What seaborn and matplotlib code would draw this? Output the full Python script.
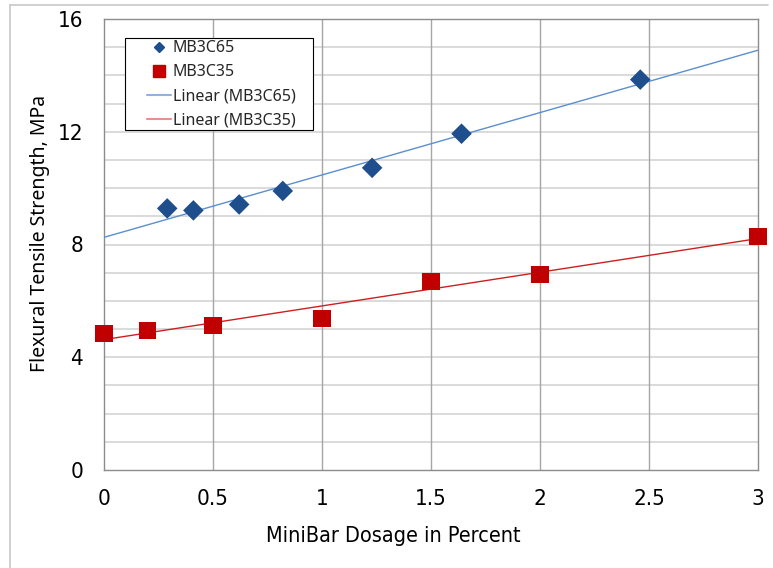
import numpy as np
import pandas as pd
import matplotlib
matplotlib.use("Agg")
import matplotlib.pyplot as plt
import seaborn as sns
from matplotlib.lines import Line2D
from matplotlib.patches import Rectangle

# ---- data ----
c65_dosage = [0.29, 0.41, 0.62, 0.82, 1.23, 1.64, 2.46]
c65_strength = [9.28, 9.21, 9.42, 9.90, 10.72, 11.93, 13.85]
c35_dosage = [0.0, 0.2, 0.5, 1.0, 1.5, 2.0, 3.0]
c35_strength = [4.84, 4.94, 5.12, 5.37, 6.68, 6.93, 8.30]
series_names = ["MB3C65", "MB3C35"]
x_ticks = [0, 0.5, 1, 1.5, 2, 2.5, 3]
x_tick_labels = ["0", "0.5", "1", "1.5", "2", "2.5", "3"]
y_ticks = [0, 4, 8, 12, 16]

df65 = pd.DataFrame({"x": c65_dosage, "y": c65_strength})
df35 = pd.DataFrame({"x": c35_dosage, "y": c35_strength})

sns.set_theme(style="white")
plain = ["Noto Sans", "DejaVu Sans"]
plt.rcParams["font.family"] = plain

fig = plt.figure(figsize=(7.73, 5.68), dpi=100)
ax = fig.add_axes([104 / 773, 1 - 470 / 568, (758 - 104) / 773, (470 - 19) / 568])

ax.set_xlim(0, 3)
ax.set_ylim(0, 16)

blue_pt = "#1F4E8C"
red_pt = "#C00000"
blue_ln = "#5B8FD0"
red_ln = "#CC2020"

# trendlines
sns.regplot(data=df65, x="x", y="y", ax=ax, scatter=False, ci=None, truncate=False,
            line_kws=dict(color=blue_ln, lw=1.0, zorder=3))
sns.regplot(data=df35, x="x", y="y", ax=ax, scatter=False, ci=None, truncate=False,
            line_kws=dict(color=red_ln, lw=1.0, zorder=3))

# points
sns.scatterplot(data=df65, x="x", y="y", ax=ax, marker="D", s=110, color=blue_pt,
                edgecolor="none", zorder=4, clip_on=False)
sns.scatterplot(data=df35, x="x", y="y", ax=ax, marker="s", s=150, color=red_pt,
                edgecolor="none", zorder=4, clip_on=False)

ax.set_xlim(0, 3)
ax.set_ylim(0, 16)

# grid
ax.set_yticks(y_ticks)
ax.set_xticks(x_ticks)
ax.set_xticklabels(x_tick_labels)
ax.grid(False)
for yv in np.arange(1, 16, 1):
    ax.axhline(yv, color="#D4D4D4", lw=1.2, zorder=1)
for xv in x_ticks[1:-1]:
    ax.axvline(xv, color="#A6A6A6", lw=1.0, zorder=1)

for s in ax.spines.values():
    s.set_color("#8C8C8C")
    s.set_linewidth(1.0)

ax.tick_params(axis="both", which="both", length=0)
ax.tick_params(axis="x", pad=14)
ax.tick_params(axis="y", pad=15)
for lab in ax.get_xticklabels() + ax.get_yticklabels():
    lab.set_family("DejaVu Sans")
    lab.set_fontstretch("condensed")
    lab.set_fontsize(16)
    lab.set_color("black")

ax.set_xlabel("MiniBar Dosage in Percent", family="DejaVu Sans", fontstretch="condensed",
              fontsize=15.5, color="black")
ax.xaxis.set_label_coords(0.443, -0.125)
ax.set_ylabel("Flexural Tensile Strength, MPa", family=plain, fontsize=14, color="black")
ax.yaxis.set_label_coords(-0.082, 0.525)

# legend box drawn in axes coordinates
ax.add_patch(Rectangle((0.0321, 0.7539), 0.2875, 0.2040, transform=ax.transAxes,
                       facecolor="white", edgecolor="black", lw=0.8, zorder=5))
handles = [
    Line2D([], [], ls="none", marker="D", color=blue_pt, markersize=5.5),
    Line2D([], [], ls="none", marker="s", color=red_pt, markersize=9),
    Line2D([], [], color="#8FB2E0", lw=1.5),
    Line2D([], [], color="#E89090", lw=1.5),
]
labels = series_names + ["Linear (MB3C65)", "Linear (MB3C35)"]
leg = ax.legend(handles, labels, loc="upper left", bbox_to_anchor=(0.0657, 0.953),
                frameon=False, fontsize=11.5, handlelength=1.5,
                handletextpad=0.1, borderpad=0, labelspacing=0.5, borderaxespad=0)
leg.set_zorder(6)

# figure border (left and top)
fig.add_artist(Line2D([10 / 773, 10 / 773], [0, 1 - 5 / 568], color="#C8C8C8", lw=1.2,
                      transform=fig.transFigure))
fig.add_artist(Line2D([10 / 773, 768 / 773], [1 - 5 / 568, 1 - 5 / 568], color="#C8C8C8", lw=1.2,
                      transform=fig.transFigure))

fig.savefig("out.png", dpi=100)
